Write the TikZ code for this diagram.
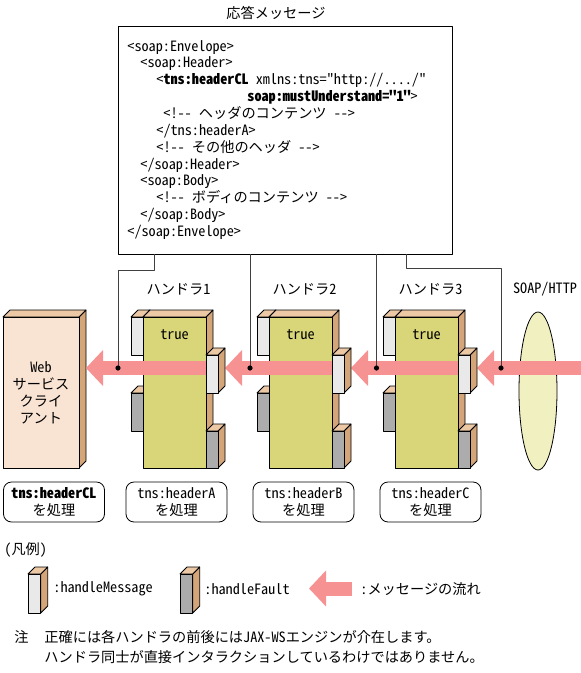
\documentclass[tikz,border=0pt]{standalone}
\usepackage{fontspec}
\setmonofont{Noto Sans CJK JP}[RawFeature=+hwid]
\usetikzlibrary{arrows.meta,shapes.geometric}
\definecolor{msgpink}{RGB}{246,146,146}
\definecolor{handlergreen}{RGB}{216,214,120}
\definecolor{sidetan}{RGB}{212,165,120}
\definecolor{toptan}{RGB}{236,200,164}
\definecolor{clientpeach}{RGB}{249,228,212}
\definecolor{msgwhite}{RGB}{233,233,233}
\definecolor{faultgray}{RGB}{172,172,172}
\definecolor{soapyellow}{RGB}{240,240,192}
\definecolor{wiregray}{RGB}{64,64,64}
% box with a top and a right face: x, y, width, height, front colour
\newcommand{\blockbox}[5]{%
  \draw[fill=sidetan] (#1+#3,#2) -- ++(7,-7) -- ++(0,#4) -- ++(-7,7) -- cycle;
  \draw[fill=toptan] (#1,#2) -- ++(7,-7) -- ++(#3,0) -- ++(-7,7) -- cycle;
  \draw[fill=#5] (#1,#2) rectangle ++(#3,#4);}
\begin{document}
\begin{tikzpicture}[x=1pt, y=-1pt, line width=0.8pt, line join=round,
    font=\fontsize{14.2}{16.8}\selectfont\ttfamily,
    every node/.style={inner sep=0pt},
    codeline/.style={anchor=base west},
    msgflow/.style={draw=msgpink, line width=14pt, -{Triangle[width=35pt,length=17pt]}},
    wire/.style={draw=wiregray, line width=0.9pt},
    tag/.style={draw, fill=white, rounded corners=8pt, minimum width=101pt, minimum height=40pt,
      align=center, font=\fontsize{14.2}{17}\selectfont\ttfamily}]
\useasboundingbox (0,0) rectangle (581,673);
% response message
\node (msgtitle) at (276,13) {応答メッセージ};
\node[draw, minimum width=334pt, minimum height=228pt] (msg) at (285,140) {};
\node[codeline] (l1) at (127,51) {<soap:Envelope>};
\node[codeline] (l2) at (140,67.9) {<soap:Header>};
\node[codeline] (l3) at (156,84.7) {<\textbf{tns:headerCL} xmlns:tns="http://..../"};
\node[codeline] (l4) at (247,101.6) {\textbf{soap:mustUnderstand="1"}>};
\node[codeline] (l5) at (163,118.4) {<!-- ヘッダのコンテンツ -->};
\node[codeline] (l6) at (156,135.3) {</tns:headerA>};
\node[codeline] (l7) at (156,152.1) {<!-- その他のヘッダ -->};
\node[codeline] (l8) at (140,169) {</soap:Header>};
\node[codeline] (l9) at (140,185.8) {<soap:Body>};
\node[codeline] (l10) at (156,202.7) {<!-- ボディのコンテンツ -->};
\node[codeline] (l11) at (140,219.5) {</soap:Body>};
\node[codeline] (l12) at (127,236.4) {</soap:Envelope>};
% web service client
\blockbox{3}{317}{76}{151}{clientpeach}
\node[align=center] (client) at (41,393) {Web\\サービス\\クライ\\アント};
\coordinate (clientport) at (86,368);
% handlers
\foreach \i/\bx in {1/143, 2/269, 3/395}{
  \blockbox{\bx-12}{317}{12}{38}{msgwhite}
  \blockbox{\bx-12}{393}{12}{38}{faultgray}
  \blockbox{\bx}{317}{63}{151}{handlergreen}
  \node (hname\i) at (\bx+35.5,289) {ハンドラ\i};
  \node (true\i) at (\bx+31.5,335) {true};
  \coordinate (hin\i) at (\bx+70,368);
  \coordinate (hout\i) at (\bx+82,368);
}
% SOAP/HTTP
\node[ellipse, draw, fill=soapyellow, minimum width=38pt, minimum height=158pt] (soap) at (538,391) {};
\node (http) at (545,289) {SOAP/HTTP};
\coordinate (wirein) at (581,368);
% message flow
\draw[msgflow] (wirein) -- (hout3);
\draw[msgflow] (hin3) -- (hout2);
\draw[msgflow] (hin2) -- (hout1);
\draw[msgflow] (hin1) -- (clientport);
\foreach \bx in {143,269,395}{
  \blockbox{\bx+63}{355}{12}{38}{msgwhite}
  \blockbox{\bx+63}{431}{12}{37}{faultgray}
}
% where the headers are read
\coordinate (dot1) at (118,368);
\coordinate (dot2) at (250,368);
\coordinate (dot3) at (376.5,368);
\coordinate (dot4) at (501,368);
\coordinate (tap1) at (154,254);
\coordinate (tap4) at (406,254);
\draw[wire] (tap1) -- ++(0,16) -| (dot1);
\draw[wire] (msg.south -| dot2) -- (dot2);
\draw[wire] (msg.south -| dot3) -- (dot3);
\draw[wire] (tap4) -- ++(0,14) -| (dot4);
\foreach \d in {dot1,dot2,dot3,dot4} \fill (\d) circle (2.6);
\node[tag] (tagcl) at (54,502) {\textbf{tns:headerCL}\\を処理};
\node[tag] (taga) at (176.5,502) {tns:headerA\\を処理};
\node[tag] (tagb) at (303.5,502) {tns:headerB\\を処理};
\node[tag] (tagc) at (430.5,502) {tns:headerC\\を処理};
% legend
\node[anchor=west] (legend) at (4,550) {（凡例）};
\blockbox{28}{574}{12.7}{39}{msgwhite}
\node[anchor=west] (legmsg) at (53,589) {:handleMessage};
\blockbox{180}{574}{12.7}{39}{faultgray}
\node[anchor=west] (legfault) at (204,589) {:handleFault};
\coordinate (legtail) at (352,588.5);
\coordinate (leghead) at (309,588.5);
\draw[msgflow] (legtail) -- (leghead);
\node[anchor=west] (legflow) at (360,589) {:メッセージの流れ};
% note
\node (notemark) at (21.5,637) {注};
\node[anchor=west] (note1) at (44,637) {正確には各ハンドラの前後にはJAX-WSエンジンが介在します。};
\node[anchor=west] (note2) at (44,657) {ハンドラ同士が直接インタラクションしているわけではありません。};
\end{tikzpicture}
\end{document}
